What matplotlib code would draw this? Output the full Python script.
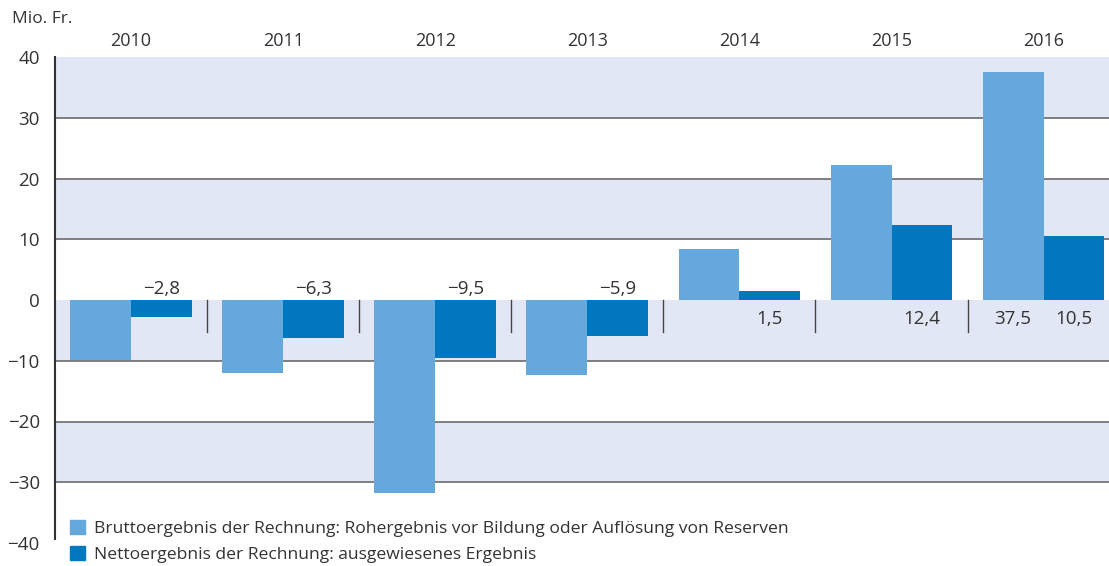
import numpy as np
import matplotlib.pyplot as plt
from matplotlib.patches import Patch

plt.rcParams['font.family'] = ['Open Sans', 'DejaVu Sans']

years = ['2010', '2011', '2012', '2013', '2014', '2015', '2016']
brutto = [-9.9, -12.0, -31.7, -12.3, 8.4, 22.2, 37.5]
netto = [-2.8, -6.3, -9.5, -5.9, 1.5, 12.4, 10.5]
netto_labels = ['\u22122,8', '\u22126,3', '\u22129,5', '\u22125,9', '1,5', '12,4', '10,5']
legend_labels = ['Bruttoergebnis der Rechnung: Rohergebnis vor Bildung oder Auflösung von Reserven',
                 'Nettoergebnis der Rechnung: ausgewiesenes Ergebnis']

c_light = '#65a9dc'
c_dark = '#0077bf'
c_band = '#e1e7f4'
c_text = '#333333'

fig = plt.figure(figsize=(11.09, 5.66), dpi=100)
ax = fig.add_axes([55 / 1109, 1 - 543 / 566, 1 - 55 / 1109, (543 - 57) / 566])

# alternating bands
for lo in [30, 10, -10, -30]:
    ax.axhspan(lo, lo + 10, color=c_band, zorder=0, lw=0)
for g in [30, 20, 10, -10, -20, -30]:
    ax.axhline(g, color='#6b6b6b', lw=1.2, zorder=1)

x = np.arange(len(years))
w = 0.4
ax.bar(x - w / 2, brutto, w, color=c_light, zorder=2)
ax.bar(x + w / 2, netto, w, color=c_dark, zorder=2)

# separators between groups
for i in range(len(years) - 1):
    ax.plot([i + 0.5, i + 0.5], [0, -5.3], color='#444444', lw=1, zorder=3)

# value labels
fs = 13.5
for i, (v, lab) in enumerate(zip(netto, netto_labels)):
    if v < 0:
        ax.text(x[i] + w / 2, 1.75, lab, ha='center', va='center', fontsize=fs, color=c_text)
    else:
        ax.text(x[i] + w / 2, -3.1, lab, ha='center', va='center', fontsize=fs, color=c_text)
ax.text(x[6] - w / 2, -3.1, '37,5', ha='center', va='center', fontsize=fs, color=c_text)

ax.set_xlim(-0.5, 6.43)
ax.set_ylim(-40, 40)
ax.set_yticks(range(-40, 41, 10))
ax.set_yticklabels([str(t).replace('-', '\u2212') for t in range(-40, 41, 10)])
ax.set_xticks(x)
ax.set_xticklabels(years)
ax.xaxis.tick_top()
ax.tick_params(axis='x', length=0, pad=5, labelsize=13, colors=c_text)
ax.tick_params(axis='y', length=0, pad=11, labelsize=13.5, colors=c_text)
for s in ['top', 'right', 'bottom']:
    ax.spines[s].set_visible(False)
ax.spines['left'].set_color('#333333')
ax.spines['left'].set_linewidth(1.5)
ax.spines['left'].set_bounds(-39.3, 40)

fig.text(12 / 1109, 1 - 19 / 566, 'Mio. Fr.', ha='left', va='center', fontsize=12.5, color=c_text)

handles = [Patch(color=c_light), Patch(color=c_dark)]
fig.legend(handles, legend_labels, loc='lower left', bbox_to_anchor=(54 / 1109, -0.022),
           frameon=False, fontsize=12.6, handlelength=0.85, handleheight=0.85,
           handletextpad=0.55, labelspacing=0.5, labelcolor=c_text)

fig.savefig('out.png', dpi=100)
